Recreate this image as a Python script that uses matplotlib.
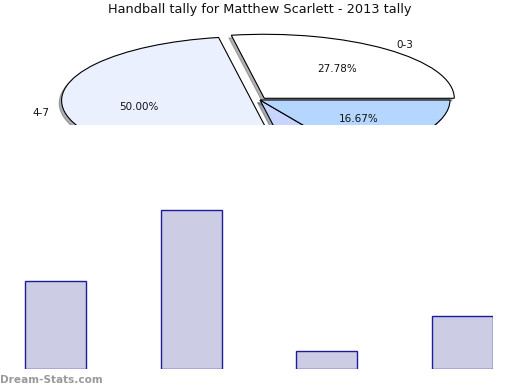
import matplotlib
matplotlib.use("Agg")
import matplotlib.pyplot as plt

# data
categories = ["0-3", "4-7", "8-11", "12-15"]
counts = [5, 9, 1, 3]
pie_colors = ["#ffffff", "#eaf0fe", "#c8d6ff", "#b4d6ff"]
explode = [0.035, 0.045, 0.0, 0.0]
bar_values = [5, 9, 1, 3]

W, H = 520, 390
fig = plt.figure(figsize=(W / 100, H / 100), dpi=100)
fig.patch.set_facecolor("white")

# pie in pixel-ish frame: centre and radii in pixels
cx, cy = 260, 100     # pixel centre (from top)
rx, ry = 190, 64      # ellipse radii in pixels

ax_pie = fig.add_axes([0, 0, 1, 1])
wedges, texts, autotexts = ax_pie.pie(
    counts, labels=categories, colors=pie_colors, explode=explode,
    startangle=0, counterclock=True, autopct="%.2f%%",
    pctdistance=0.6, labeldistance=1.08,
    shadow=dict(ox=-0.009, oy=-0.03, shade=0.6),
    wedgeprops=dict(edgecolor="black", linewidth=0.8),
    textprops=dict(fontsize=7.5, color="#111111"))
ax_pie.set_aspect("auto")
ax_pie.set_xlim(-cx / rx, (W - cx) / rx)
ax_pie.set_ylim(-(H - cy) / ry, cy / ry)
ax_pie.axis("off")

fig.text(0.5, 1 - 10 / H, "Handball tally for Matthew Scarlett - 2013 tally",
         ha="center", va="center", fontsize=9.3, color="#111111")

# bar chart overlays the lower part of the pie
ax_bar = fig.add_axes([0, 21 / H, 493 / W, 244 / H])
ax_bar.set_facecolor("white")
x = range(len(bar_values))
ax_bar.bar(x, bar_values, width=0.45, color="#cccce4", edgecolor="#1c1c9c", linewidth=1)
ax_bar.set_xlim(-0.409, 3.225)
ax_bar.set_ylim(0, 244 / 17.67)
for s in ax_bar.spines.values():
    s.set_visible(False)
ax_bar.set_xticks([])
ax_bar.set_yticks([])

fig.text(0, 1 - 380 / H, "Dream-Stats.com", ha="left", va="center",
         fontsize=7.6, fontweight="bold", color="#9a9a9a")

fig.savefig("out.png", dpi=100, facecolor="white")
